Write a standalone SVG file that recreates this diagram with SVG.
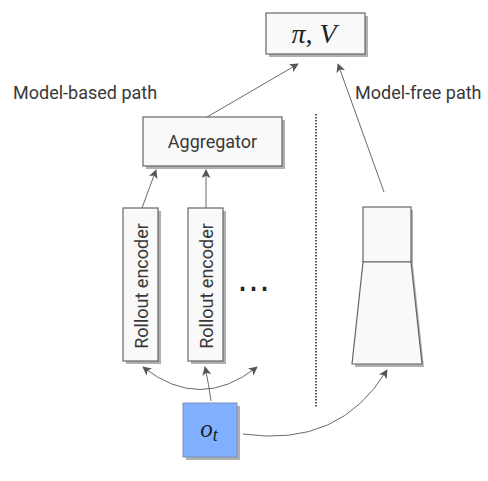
<svg xmlns="http://www.w3.org/2000/svg" width="488" height="481" viewBox="0 0 488 481">
<style>
.box{fill:#f9f9f9;stroke:#666;stroke-width:1.2}
.sh{fill:#b0b0b0}
.lbl{font-family:Roboto,"Liberation Sans",sans-serif;font-size:18px;fill:#383838}
.math{font-family:"Liberation Serif","DejaVu Serif",serif;font-style:italic;fill:#222}
.ar{fill:none;stroke:#6a6a6a;stroke-width:1}
</style>
<defs>
<marker id="ah" viewBox="0 0 10 10" refX="9" refY="5" markerWidth="9" markerHeight="9" markerUnits="userSpaceOnUse" orient="auto-start-reverse">
<path d="M0,0 L10,5 L0,10 L2.5,5 z" fill="#555"/>
</marker>
</defs>
<rect width="488" height="481" fill="#fff"/>
<g id="piV">
<rect class="sh" x="269" y="16" width="99" height="41"/>
<rect class="box" x="266" y="13" width="99" height="41"/>
<text class="math" x="314" y="43" font-size="28" text-anchor="middle">π<tspan font-style="normal">,</tspan> V</text>
</g>
<g id="aggregator">
<rect class="sh" x="146" y="120" width="139" height="49"/>
<rect class="box" x="143" y="117" width="139" height="49"/>
<text class="lbl" x="212.5" y="148" text-anchor="middle">Aggregator</text>
</g>
<g id="rollout1">
<rect class="sh" x="126" y="211" width="35" height="153"/>
<rect class="box" x="123" y="208" width="35" height="153"/>
<text class="lbl" transform="translate(148,286) rotate(-90)" text-anchor="middle" font-size="19.5">Rollout encoder</text>
</g>
<g id="rollout2">
<rect class="sh" x="191" y="211" width="35" height="153"/>
<rect class="box" x="188" y="208" width="35" height="153"/>
<text class="lbl" transform="translate(213,286) rotate(-90)" text-anchor="middle" font-size="19.5">Rollout encoder</text>
</g>
<g id="dots">
<text x="253.5" y="299" font-family="DejaVu Sans,sans-serif" font-size="33" fill="#222" text-anchor="middle">⋯</text>
</g>
<g id="modelfree">
<polygon class="sh" points="365,210 413,210 413,265 424,367 355,367 365,265"/>
<rect class="box" x="363" y="207" width="48" height="55"/>
<polygon class="box" points="363,262 411,262 422,364 352,364"/>
</g>
<g id="obs">
<rect class="sh" x="186" y="406" width="54" height="54"/>
<rect x="183" y="403" width="54" height="54" fill="#80b0ff" stroke="#7a8fb0" stroke-width="1"/>
<text class="math" x="209" y="437" font-size="25" text-anchor="middle">o<tspan font-size="18" dy="4">t</tspan></text>
</g>
<g id="texts">
<text class="lbl" x="13" y="99">Model-based path</text>
<text class="lbl" x="355" y="99">Model-free path</text>
</g>
<g id="connectors">
<line class="ar" x1="207" y1="117" x2="298" y2="64" marker-end="url(#ah)"/>
<line class="ar" x1="384" y1="192" x2="338" y2="64" marker-end="url(#ah)"/>
<line class="ar" x1="142" y1="208" x2="156" y2="170" marker-end="url(#ah)"/>
<line class="ar" x1="206" y1="208" x2="206" y2="170" marker-end="url(#ah)"/>
<path class="ar" d="M211,401 Q209,385 205,367" marker-end="url(#ah)"/>
<path class="ar" d="M143,367 Q200,412 257,367" marker-start="url(#ah)" marker-end="url(#ah)"/>
<path class="ar" d="M243,434 Q340,448 387,370" marker-end="url(#ah)"/>
<line x1="316" y1="114" x2="316" y2="408" stroke="#222" stroke-width="1.5" stroke-dasharray="1.5,1.5"/>
</g>
</svg>
